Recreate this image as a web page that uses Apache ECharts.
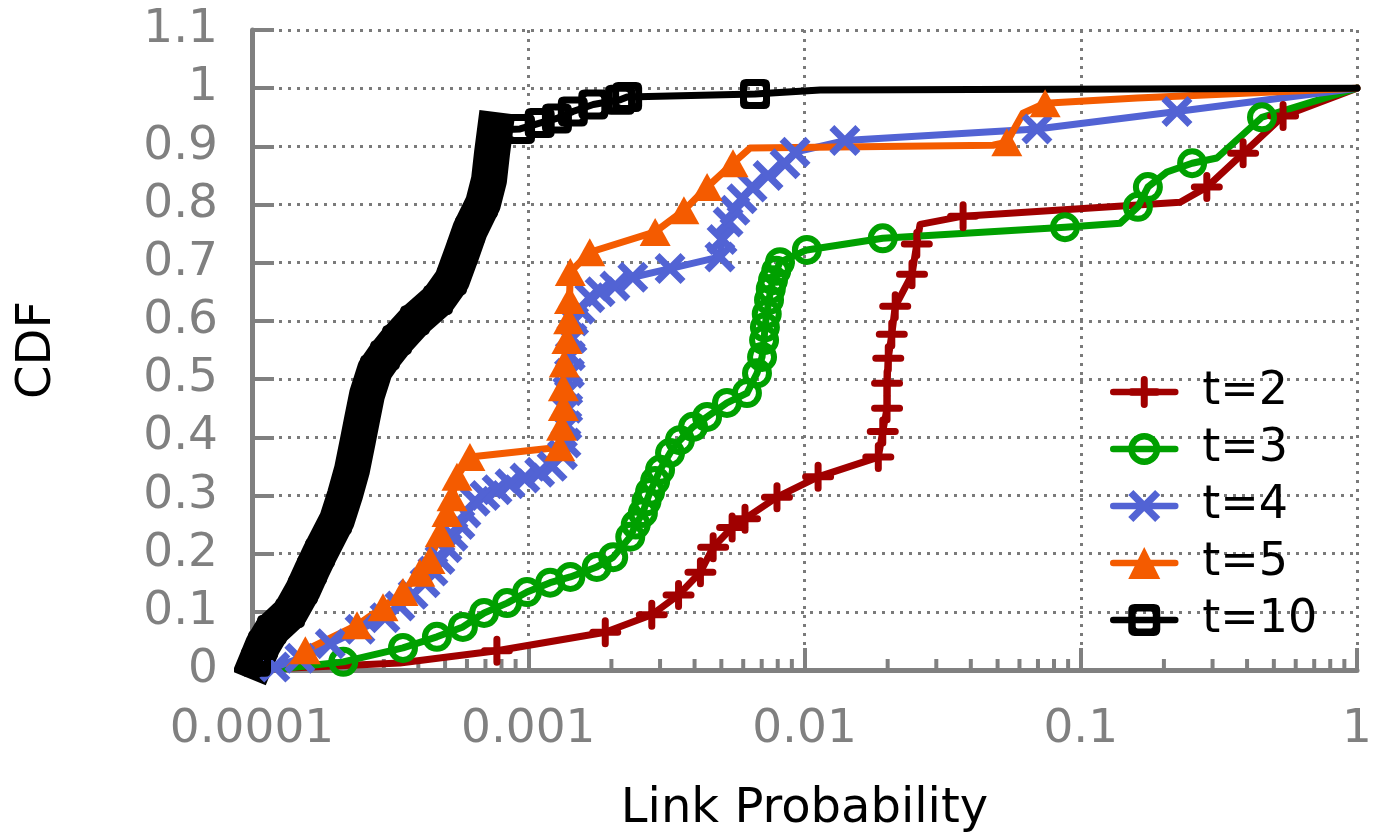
<!DOCTYPE html>
<html>
<head>
<meta charset="utf-8">
<script src="https://cdn.jsdelivr.net/npm/echarts@6/dist/echarts.min.js"></script>
<style>
html,body{margin:0;padding:0;background:#fff;}
#chart{width:1376px;height:840px;}
</style>
</head>
<body>
<div id="chart"></div>
<script>
// ---- Data (x = link probability, y = CDF) ----
const seriesNames = ['t=2', 't=3', 't=4', 't=5', 't=10'];
const xTickLabels = ['0.0001', '0.001', '0.01', '0.1', '1'];
const minorMultiples = [2, 3, 4, 5, 6, 7, 8, 9];

// t=2 : points carrying a marker, and unmarked bends of the line
const t2Marks = [
  [7.7e-4, 0.033], [1.9e-3, 0.065], [2.8e-3, 0.095], [3.5e-3, 0.129], [4.2e-3, 0.168],
  [4.67e-3, 0.211], [5.47e-3, 0.245], [6.09e-3, 0.260], [7.95e-3, 0.297], [0.0112, 0.332],
  [0.0185, 0.366], [0.0192, 0.410], [0.0199, 0.450], [0.0199, 0.493], [0.0201, 0.536],
  [0.0207, 0.577], [0.0213, 0.625], [0.0245, 0.680], [0.0255, 0.732], [0.0375, 0.780],
  [0.286, 0.830], [0.387, 0.888], [0.540, 0.952]
];
const t2Bends = [[1.2e-4, 0.002], [3.43e-4, 0.012], [0.0262, 0.766], [0.229, 0.804], [1, 1]];

// t=3
const t3Marks = [
  [2.14e-4, 0.014], [3.52e-4, 0.038], [4.67e-4, 0.057], [5.80e-4, 0.074], [6.92e-4, 0.098],
  [8.38e-4, 0.115], [9.90e-4, 0.134], [1.20e-3, 0.150], [1.42e-3, 0.160], [1.77e-3, 0.177],
  [2.03e-3, 0.194], [2.34e-3, 0.229], [2.45e-3, 0.250], [2.60e-3, 0.270], [2.68e-3, 0.290],
  [2.76e-3, 0.306], [2.88e-3, 0.325], [3.00e-3, 0.344], [3.26e-3, 0.373], [3.54e-3, 0.395],
  [3.95e-3, 0.418], [4.44e-3, 0.435], [5.24e-3, 0.459], [6.19e-3, 0.476], [6.73e-3, 0.510],
  [7.02e-3, 0.538], [7.14e-3, 0.567], [7.19e-3, 0.589], [7.30e-3, 0.612], [7.44e-3, 0.636],
  [7.55e-3, 0.655], [7.69e-3, 0.670], [7.90e-3, 0.686], [8.15e-3, 0.701], [0.0102, 0.722],
  [0.0192, 0.742], [0.0877, 0.761], [0.161, 0.796], [0.175, 0.830], [0.253, 0.871],
  [0.453, 0.950]
];
const t3Bends = [[1.32e-4, 0.003], [0.139, 0.768], [0.205, 0.856], [0.311, 0.880], [1, 1]];

// t=4
const t4Marks = [
  [1.21e-4, 0.005], [1.49e-4, 0.020], [1.92e-4, 0.045], [2.46e-4, 0.070], [3.03e-4, 0.090],
  [3.43e-4, 0.110], [3.83e-4, 0.130], [4.23e-4, 0.150], [4.52e-4, 0.170], [4.79e-4, 0.190],
  [5.08e-4, 0.210], [5.34e-4, 0.230], [5.66e-4, 0.250], [5.95e-4, 0.270], [6.42e-4, 0.290],
  [6.97e-4, 0.300], [7.71e-4, 0.310], [8.59e-4, 0.320], [9.73e-4, 0.330], [1.10e-3, 0.340],
  [1.22e-3, 0.350], [1.33e-3, 0.370], [1.37e-3, 0.390], [1.38e-3, 0.420], [1.39e-3, 0.450],
  [1.39e-3, 0.480], [1.41e-3, 0.510], [1.42e-3, 0.540], [1.44e-3, 0.570], [1.46e-3, 0.600],
  [1.54e-3, 0.620], [1.67e-3, 0.640], [1.82e-3, 0.650], [2.06e-3, 0.660], [2.39e-3, 0.675],
  [3.26e-3, 0.690], [4.94e-3, 0.710], [5.03e-3, 0.740], [5.29e-3, 0.770], [5.60e-3, 0.790],
  [5.94e-3, 0.810], [6.46e-3, 0.830], [7.38e-3, 0.850], [8.50e-3, 0.870], [9.24e-3, 0.890],
  [0.0140, 0.910], [0.0694, 0.930], [0.223, 0.960]
];
const t4Bends = [[1, 1]];

// t=5
const t5Marks = [
  [1.56e-4, 0.034], [2.40e-4, 0.077], [2.98e-4, 0.108], [3.52e-4, 0.134], [4.05e-4, 0.167],
  [4.41e-4, 0.189], [4.80e-4, 0.235], [5.08e-4, 0.270], [5.30e-4, 0.297], [5.52e-4, 0.332],
  [6.15e-4, 0.366], [1.30e-3, 0.383], [1.32e-3, 0.418], [1.34e-3, 0.452], [1.34e-3, 0.486],
  [1.35e-3, 0.527], [1.38e-3, 0.567], [1.40e-3, 0.601], [1.41e-3, 0.636], [1.42e-3, 0.684],
  [1.67e-3, 0.718], [2.88e-3, 0.753], [3.66e-3, 0.790], [4.44e-3, 0.830], [5.51e-3, 0.871],
  [0.054, 0.907], [0.0743, 0.974]
];
const t5Bends = [[1.37e-4, 0.004], [6.35e-3, 0.897], [0.0481, 0.902], [0.0618, 0.957], [0.16, 0.983], [1, 1]];

// t=10 : dense part (markers overlap into a solid band), sparse markers, bends
const t10Dense = [
  [1.034e-4, 0.014], [1.096e-4, 0.043], [1.181e-4, 0.069], [1.373e-4, 0.098], [1.53e-4, 0.138],
  [1.649e-4, 0.172], [1.763e-4, 0.201], [2.031e-4, 0.258], [2.171e-4, 0.301], [2.301e-4, 0.344],
  [2.419e-4, 0.395], [2.501e-4, 0.430], [2.608e-4, 0.473], [2.787e-4, 0.516], [3.03e-4, 0.541],
  [3.349e-4, 0.567], [3.89e-4, 0.601], [4.713e-4, 0.636], [5.297e-4, 0.670], [5.756e-4, 0.717],
  [6.152e-4, 0.756], [6.859e-4, 0.802], [7.211e-4, 0.842], [7.393e-4, 0.888], [7.58e-4, 0.928]
];
const t10Sparse = [
  [9.34e-4, 0.930], [1.10e-3, 0.940], [1.27e-3, 0.948], [1.45e-3, 0.960], [1.72e-3, 0.972],
  [2.15e-3, 0.980], [2.28e-3, 0.985], [6.62e-3, 0.990]
];
const t10Bends = [[0.0114, 0.997], [1, 1]];

// ---- Styling / building ----
const FONT = 'DejaVu Sans';
const GRAY = '#808080';
const COLORS = ['#a00000', '#00a000', '#5263d4', '#f45b00', '#000000'];
// filled marker outlines (thick strokes drawn as filled shapes)
const PLUS = 'path://M12.5,3.5A3.5,3.5,0,0,1,19.5,3.5V11.5H28.5A3.5,3.5,0,0,1,28.5,18.5H19.5V26.5A3.5,3.5,0,0,1,12.5,26.5V18.5H3.5A3.5,3.5,0,0,1,3.5,11.5H12.5Z';
const CROSS = 'path://M4.6,-0.3L30.3,25.4L25.4,30.3L-0.3,4.6ZM25.4,-0.3L30.3,4.6L4.6,30.3L-0.3,25.4Z';
const RING = 'path://M15,0A15,15,0,1,1,15,30A15,15,0,1,1,15,0ZM15,6A9,9,0,1,0,15,24A9,9,0,1,0,15,6Z';
const SQRING = 'path://M6,0H24Q30,0,30,6V24Q30,30,24,30H6Q0,30,0,24V6Q0,0,6,0ZM9,7Q7,7,7,9V21Q7,23,9,23H21Q23,23,23,21V9Q23,7,21,7Z';

function buildData(marks, bends) {
  const items = marks.map(p => ({ value: p }))
    .concat(bends.map(p => ({ value: p, symbol: 'none' })));
  items.sort((a, b) => (a.value[1] - b.value[1]) || (a.value[0] - b.value[0]));
  return items;
}

function lineSeries(name, color, data, symbol, size) {
  return {
    name: name, type: 'line', data: data,
    symbol: symbol, symbolSize: size, showAllSymbol: true,
    clip: false, animation: false, smooth: false,
    lineStyle: { color: color, width: 7, cap: 'round', join: 'round' },
    itemStyle: { color: color, borderWidth: 0 },
    emphasis: { disabled: true }
  };
}

const minorTicks = [];
for (let e = -4; e < 0; e++) {
  minorMultiples.forEach(m => minorTicks.push([m * Math.pow(10, e), 0]));
}

const chart = echarts.init(document.getElementById('chart'), null, { renderer: 'canvas' });

const dottedSplit = { show: true, lineStyle: { color: '#7a7a7a', width: 3, type: [3, 6] } };

const option = {
  backgroundColor: '#fff',
  animation: false,
  textStyle: { fontFamily: FONT },
  grid: { left: 252, right: 19, top: 30, bottom: 170, containLabel: false },
  legend: {
    data: seriesNames,
    orient: 'vertical',
    left: 1105, top: 364,
    itemWidth: 62, itemHeight: 40, itemGap: 11,
    selectedMode: false,
    lineStyle: { width: 6.5, cap: 'round' },
    textStyle: { fontFamily: FONT, fontSize: 46, color: '#000', padding: [0, 0, 0, 22] }
  },
  xAxis: {
    type: 'log', logBase: 10, min: 0.0001, max: 1, splitNumber: 4,
    name: 'Link Probability', nameLocation: 'middle', nameGap: 116,
    nameTextStyle: { fontFamily: FONT, fontSize: 48, color: '#000' },
    axisLine: { show: true, onZero: false, lineStyle: { color: GRAY, width: 5 } },
    axisTick: { show: true, inside: true, length: 22, lineStyle: { color: GRAY, width: 4 } },
    axisLabel: {
      margin: 36, fontFamily: FONT, fontSize: 47, color: GRAY,
      formatter: v => xTickLabels[Math.round(Math.log10(v)) + 4]
    },
    splitLine: dottedSplit,
    minorTick: { show: false }
  },
  yAxis: {
    type: 'value', min: 0, max: 1.1, interval: 0.1,
    name: 'CDF', nameLocation: 'middle', nameGap: 190,
    nameTextStyle: { fontFamily: FONT, fontSize: 48, color: '#000' },
    axisLine: { show: true, onZero: false, lineStyle: { color: GRAY, width: 5 } },
    axisTick: { show: true, inside: true, length: 22, lineStyle: { color: GRAY, width: 4 } },
    axisLabel: {
      margin: 34, fontFamily: FONT, fontSize: 47, color: GRAY,
      formatter: v => String(Math.round(v * 10) / 10)
    },
    splitLine: dottedSplit
  },
  series: [
    {
      name: 'minorTicks', type: 'custom', data: minorTicks, silent: true, clip: false,
      renderItem: function (params, api) {
        const p = api.coord([api.value(0), 0]);
        return {
          type: 'line',
          shape: { x1: p[0], y1: p[1], x2: p[0], y2: p[1] - 11 },
          style: { stroke: GRAY, lineWidth: 4 }
        };
      }
    },
    lineSeries('t=2', COLORS[0], buildData(t2Marks, t2Bends), PLUS, [32, 30]),
    lineSeries('t=3', COLORS[1], buildData(t3Marks, t3Bends), RING, 30),
    lineSeries('t=4', COLORS[2], buildData(t4Marks, t4Bends), CROSS, [31, 31]),
    lineSeries('t=5', COLORS[3], buildData(t5Marks, t5Bends), 'triangle', [31, 28]),
    {
      name: 't10band', type: 'line', data: t10Dense, symbol: 'none', clip: false,
      animation: false, silent: true,
      lineStyle: { color: '#000', width: 36, cap: 'square', join: 'round' }
    },
    lineSeries('t=10', COLORS[4], buildData(t10Dense.concat(t10Sparse), t10Bends), SQRING, 30)
  ]
};

chart.setOption(option);
</script>
</body>
</html>
